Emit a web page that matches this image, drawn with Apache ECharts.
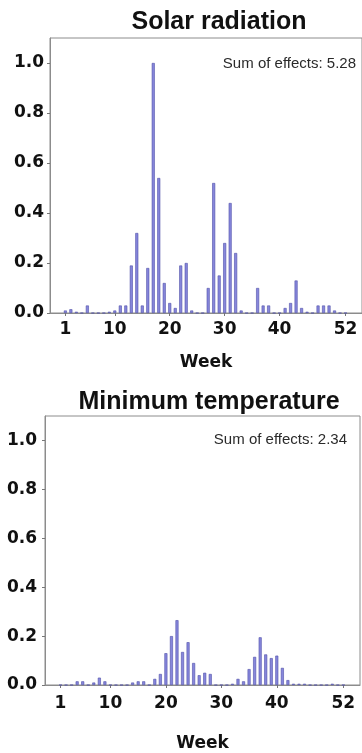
<!DOCTYPE html>
<html>
<head>
<meta charset="utf-8">
<script src="https://cdn.jsdelivr.net/npm/echarts@6/dist/echarts.min.js"></script>
<style>
  html, body { margin: 0; padding: 0; background: #fff; }
  #chart { width: 362px; height: 753px; }
</style>
</head>
<body>
<div id="chart"></div>
<script>
// weekly effects, weeks 1..52
const solarRadiation = [
  0.01, 0.015, 0.005, 0, 0.03, 0, 0, 0, 0.005, 0.01,
  0.03, 0.03, 0.19, 0.32, 0.03, 0.18, 1.0, 0.54, 0.12, 0.04,
  0.02, 0.19, 0.2, 0.01, 0, 0, 0.1, 0.52, 0.15, 0.28,
  0.44, 0.24, 0.01, 0, 0, 0.1, 0.03, 0.03, 0, 0,
  0.02, 0.04, 0.13, 0.02, 0.005, 0, 0.03, 0.03, 0.03, 0.01,
  0, 0
];
const minTemperature = [
  0, 0, 0, 0.015, 0.015, 0, 0.01, 0.03, 0.015, 0,
  0, 0, 0, 0.01, 0.015, 0.015, 0, 0.025, 0.045, 0.13,
  0.2, 0.265, 0.135, 0.175, 0.09, 0.04, 0.05, 0.045, 0, 0,
  0, 0.005, 0.025, 0.015, 0.065, 0.115, 0.195, 0.125, 0.11, 0.12,
  0.07, 0.02, 0.005, 0.005, 0.005, 0, 0, 0, 0, 0.005,
  0, 0
];
const weekTicks = [1, 10, 20, 30, 40, 52];
const yTicks = [0, 0.2, 0.4, 0.6, 0.8, 1.0];
const panelTitles = ['Solar radiation', 'Minimum temperature'];
const sumLabels = ['Sum of effects: 5.28', 'Sum of effects: 2.34'];

const frameColor = '#8c8c8c';
const tickFont = { fontFamily: 'DejaVu Sans', fontWeight: 'bold', fontSize: 17, color: '#111' };

function toPoints(arr) {
  return arr.map((v, i) => [i + 1, v]);
}

function xAxisFor(gridIndex, labelMargin, nameGap) {
  return {
    gridIndex: gridIndex,
    type: 'value',
    min: -1.8,
    max: 55,
    name: 'Week',
    nameLocation: 'middle',
    nameGap: nameGap,
    nameTextStyle: tickFont,
    axisLine: { show: true, onZero: false, lineStyle: { color: frameColor, width: 1 } },
    axisTick: { show: true, length: 3, customValues: weekTicks, lineStyle: { color: '#777' } },
    axisLabel: Object.assign({ margin: labelMargin, customValues: weekTicks }, tickFont),
    splitLine: { show: false }
  };
}

function yAxisFor(gridIndex, labelMargin) {
  return {
    gridIndex: gridIndex,
    type: 'value',
    min: 0,
    max: 1.1,
    axisLine: { show: true, onZero: false, lineStyle: { color: frameColor, width: 1 } },
    axisTick: { show: true, length: 3, customValues: yTicks, lineStyle: { color: '#777' } },
    axisLabel: Object.assign({
      margin: labelMargin,
      customValues: yTicks,
      formatter: v => v.toFixed(1)
    }, tickFont),
    splitLine: { show: false }
  };
}

const barStyle = { color: '#8787dc', borderColor: '#4f4fa8', borderWidth: 0.6 };

const chart = echarts.init(document.getElementById('chart'));
chart.setOption({
  animation: false,
  backgroundColor: '#fff',
  title: [
    {
      text: panelTitles[0], left: 214, top: 5, textAlign: 'center',
      textStyle: { fontFamily: 'Liberation Sans', fontWeight: 'bold', fontSize: 25, color: '#111' }
    },
    {
      text: panelTitles[1], left: 204, top: 385, textAlign: 'center',
      textStyle: { fontFamily: 'Liberation Sans', fontWeight: 'bold', fontSize: 25, color: '#111' }
    }
  ],
  grid: [
    { left: 50, top: 38, width: 315, height: 275, show: true, borderColor: frameColor, borderWidth: 1 },
    { left: 45, top: 416, width: 315, height: 277, show: true, borderColor: frameColor, borderWidth: 1 }
  ],
  xAxis: [xAxisFor(0, 8, 41), xAxisFor(1, 10, 50)],
  yAxis: [yAxisFor(0, 6), yAxisFor(1, 8)],
  graphic: [
    {
      type: 'text', right: 6, top: 56,
      style: { text: sumLabels[0], font: '15px "Liberation Sans"', fill: '#2a2a2a' }
    },
    {
      type: 'text', right: 15, top: 432,
      style: { text: sumLabels[1], font: '15px "Liberation Sans"', fill: '#2a2a2a' }
    }
  ],
  series: [
    {
      type: 'bar', xAxisIndex: 0, yAxisIndex: 0, barWidth: 3,
      data: toPoints(solarRadiation), itemStyle: barStyle
    },
    {
      type: 'bar', xAxisIndex: 1, yAxisIndex: 1, barWidth: 3,
      data: toPoints(minTemperature), itemStyle: barStyle
    }
  ]
});
</script>
</body>
</html>
